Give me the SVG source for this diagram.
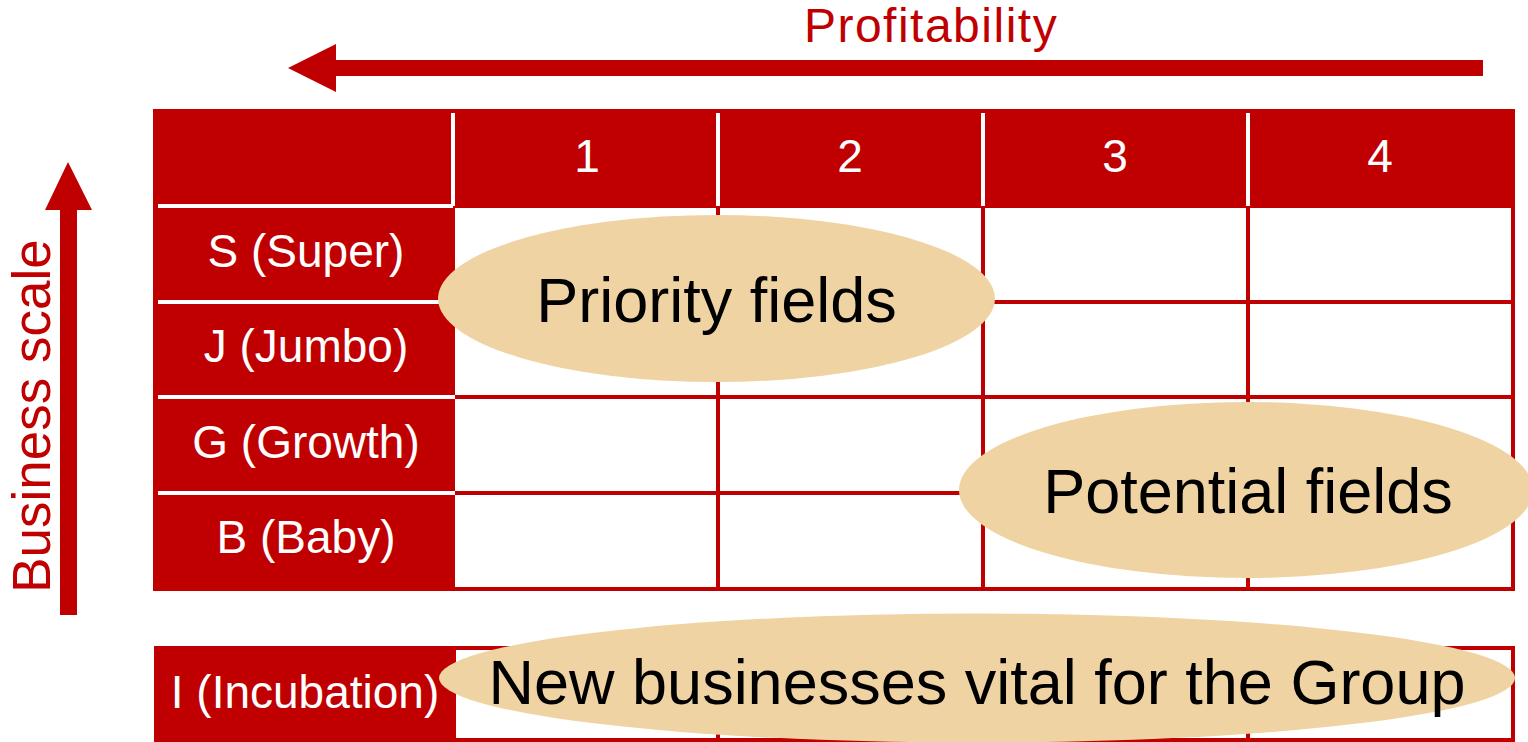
<svg xmlns="http://www.w3.org/2000/svg" width="1528" height="742" viewBox="0 0 1528 742">
  <style>
    .red { fill: #C00000; }
    .grid { stroke: #C00000; stroke-width: 4; fill: none; }
    .sep { stroke: #FFFFFF; stroke-width: 4; }
    .lbl { font-family: "Liberation Sans", Arial, sans-serif; font-size: 46px; fill: #FFFFFF; text-anchor: middle; }
    .axis { font-family: "Liberation Sans", Arial, sans-serif; fill: #C00000; text-anchor: middle; }
    .blob { fill: #F0D3A2; }
    .big { font-family: "Liberation Sans", Arial, sans-serif; font-size: 63px; fill: #000000; text-anchor: middle; }
  </style>

  <rect width="1528" height="742" fill="#FFFFFF"/>

  <!-- axis arrows and their captions -->
  <g id="axis-arrows">
    <polygon class="red" points="288,68 336,44 336,60 1483,60 1483,76 336,76 336,92"/>
    <polygon class="red" points="68,162 92,210 77,210 77,615 60,615 60,210 45,210"/>
  </g>
  <g id="axis-profitability">
    <text class="axis" x="931" y="42" font-size="48" letter-spacing="1.5">Profitability</text>
  </g>
  <g id="axis-business-scale">
    <text class="axis" font-size="53" transform="translate(50,416) rotate(-90)">Business scale</text>
  </g>

  <!-- header band with column numbers -->
  <g id="header">
    <rect class="red" x="153" y="109" width="1362" height="99"/>
    <line class="sep" x1="453" y1="113" x2="453" y2="206"/>
    <line class="sep" x1="718" y1="113" x2="718" y2="206"/>
    <line class="sep" x1="983" y1="113" x2="983" y2="206"/>
    <line class="sep" x1="1248" y1="113" x2="1248" y2="206"/>
    <text class="lbl" x="587" y="172">1</text>
    <text class="lbl" x="850" y="172">2</text>
    <text class="lbl" x="1115" y="172">3</text>
    <text class="lbl" x="1380" y="172">4</text>
  </g>

  <!-- main grid of cells -->
  <g id="grid">
    <rect x="455" y="208" width="1058" height="381" fill="#FFFFFF"/>
    <line class="grid" x1="455" y1="302" x2="1514" y2="302"/>
    <line class="grid" x1="455" y1="397" x2="1514" y2="397"/>
    <line class="grid" x1="455" y1="493" x2="1514" y2="493"/>
    <line class="grid" x1="455" y1="589" x2="1515" y2="589"/>
    <line class="grid" x1="718" y1="206" x2="718" y2="591"/>
    <line class="grid" x1="983" y1="206" x2="983" y2="591"/>
    <line class="grid" x1="1248" y1="206" x2="1248" y2="591"/>
    <line class="grid" x1="1513" y1="206" x2="1513" y2="591"/>
  </g>

  <!-- row labels -->
  <g id="row-labels">
    <rect class="red" x="153" y="206" width="302" height="385"/>
    <line class="sep" x1="158" y1="206" x2="453" y2="206"/>
    <line class="sep" x1="158" y1="302" x2="455" y2="302"/>
    <line class="sep" x1="158" y1="397" x2="455" y2="397"/>
    <line class="sep" x1="158" y1="493" x2="455" y2="493"/>
    <text class="lbl" x="306" y="267">S (Super)</text>
    <text class="lbl" x="306" y="362">J (Jumbo)</text>
    <text class="lbl" x="306" y="458">G (Growth)</text>
    <text class="lbl" x="306" y="553">B (Baby)</text>
  </g>

  <!-- incubation row -->
  <g id="incubation-row">
    <rect x="455" y="648" width="1058" height="93" fill="#FFFFFF"/>
    <line class="grid" x1="455" y1="648" x2="1515" y2="648"/>
    <line class="grid" x1="455" y1="740" x2="1515" y2="740"/>
    <line class="grid" x1="1513" y1="646" x2="1513" y2="742"/>
    <line class="grid" x1="718" y1="646" x2="718" y2="742"/>
    <line class="grid" x1="983" y1="646" x2="983" y2="742"/>
    <line class="grid" x1="1248" y1="646" x2="1248" y2="742"/>
    <rect class="red" x="154" y="646" width="302" height="96"/>
    <text class="lbl" x="305" y="708">I (Incubation)</text>
  </g>

  <!-- highlighted fields -->
  <g id="priority-fields">
    <ellipse class="blob" cx="716.5" cy="298.5" rx="278.5" ry="83.5"/>
    <text class="big" x="716.5" y="322">Priority fields</text>
  </g>
  <g id="potential-fields">
    <ellipse class="blob" cx="1246" cy="490" rx="287" ry="88"/>
    <text class="big" x="1248" y="513">Potential fields</text>
  </g>
  <g id="new-businesses">
    <ellipse class="blob" cx="977" cy="678" rx="538" ry="64.5"/>
    <text class="big" x="977" y="704">New businesses vital for the Group</text>
  </g>
</svg>
